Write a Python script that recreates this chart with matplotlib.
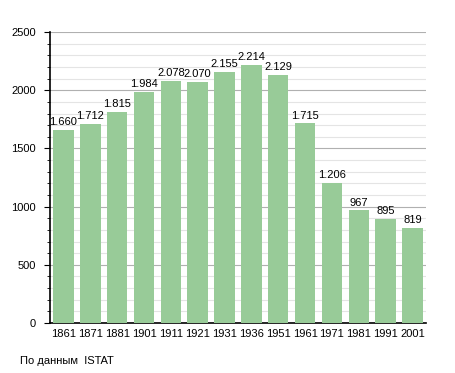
import numpy as np
import matplotlib.pyplot as plt
from matplotlib.ticker import MultipleLocator

plt.rcParams["font.family"] = ["Liberation Sans", "DejaVu Sans"]

years = ["1861", "1871", "1881", "1901", "1911", "1921", "1931",
         "1936", "1951", "1961", "1971", "1981", "1991", "2001"]
population = [1660, 1712, 1815, 1984, 2078, 2070, 2155,
              2214, 2129, 1715, 1206, 967, 895, 819]


def fmt(v):
    return f"{v:,}".replace(",", ".")


fig = plt.figure(figsize=(4.55, 3.73), dpi=100)
ax = fig.add_axes([0.110, 0.134, 0.826, 0.780])

x = np.arange(len(years))
ax.bar(x, population, width=0.76, color="#98cb98", zorder=3)
for xi, v in zip(x, population):
    ax.text(xi, v + 25, fmt(v), ha="center", va="bottom", fontsize=8, zorder=4)

ax.set_xlim(-0.5, len(years) - 0.5)
ax.set_ylim(0, 2500)
ax.set_xticks(x)
ax.set_xticklabels(years, fontsize=8)
ax.tick_params(axis="x", length=0, pad=4)
ax.yaxis.set_major_locator(MultipleLocator(500))
ax.yaxis.set_minor_locator(MultipleLocator(100))
ax.tick_params(axis="y", which="major", length=4, labelsize=8, pad=6)
ax.tick_params(axis="y", which="minor", length=2.2)

ax.grid(axis="y", which="major", color="#b0b0b0", linewidth=0.8, zorder=0)
ax.grid(axis="y", which="minor", color="#e4e4e4", linewidth=0.8, zorder=0)

for side in ["top", "right"]:
    ax.spines[side].set_visible(False)
ax.spines["left"].set_linewidth(1.2)
ax.spines["bottom"].set_linewidth(1.2)

fig.text(20 / 455, 1 - 361 / 373, "По данным  ISTAT", fontsize=8, va="center")

fig.savefig("out.png", dpi=100)
